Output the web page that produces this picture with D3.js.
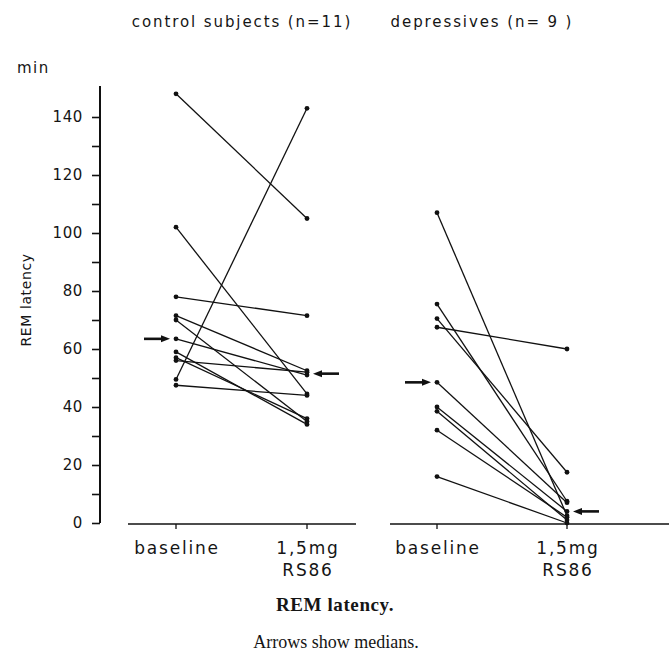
<!DOCTYPE html>
<html>
<head>
<meta charset="utf-8">
<script src="https://cdn.jsdelivr.net/npm/d3@7"></script>
<style>
  body { margin: 0; background: #fff; }
  svg { display: block; }
  .lbl { font-family: "DejaVu Sans", sans-serif; fill: #151515; }
  .cap { font-family: "Liberation Serif", serif; fill: #151515; }
</style>
</head>
<body>
<svg></svg>
<script>
// groups and conditions
var groups = ['control subjects (n=11)', 'depressives (n= 9 )'];
var conditions = ['baseline', '1,5mg RS86'];
var yTicks = [0, 20, 40, 60, 80, 100, 120, 140];

// REM latency (min), paired per subject
var controlBaseline = [148, 102, 78, 71.5, 70, 63.5, 59, 57, 56, 49.5, 47.5];
var controlRS86     = [105, 44.5, 71.5, 52.5, 35, 51, 34, 36, 52, 143, 44];
var deprBaseline = [107, 75.5, 70.5, 67.5, 48.5, 40, 38.5, 32, 16];
var deprRS86     = [2.5, 7.5, 17.5, 60, 7, 4, 1, 2, 0];

// medians (arrows)
var controlMedians = [63.5, 51.5];
var deprMedians = [48.5, 4];

var svg = d3.select('svg')
	.attr('width', 669)
	.attr('height', 651);

var y = d3.scaleLinear().domain([0, 150]).range([523, 88]);

var panels = [
	{ title: groups[0], base: controlBaseline, drug: controlRS86, med: controlMedians,
	  x: d3.scalePoint().domain(conditions).range([176, 307]), axis: [128, 356], tx: 242 },
	{ title: groups[1], base: deprBaseline, drug: deprRS86, med: deprMedians,
	  x: d3.scalePoint().domain(conditions).range([437, 567]), axis: [390, 669], tx: 482 }
];

// y axis
var yAxis = d3.axisLeft(y)
	.tickValues(d3.range(0, 150, 10))
	.tickSize(8)
	.tickFormat(function(d) { return yTicks.indexOf(d) >= 0 ? d : ''; });

var gy = svg.append('g')
	.attr('transform', 'translate(100,0)')
	.call(yAxis);
gy.select('.domain').remove();
gy.append('line')
	.attr('y1', y(150) - 2).attr('y2', y(0))
	.attr('stroke', '#111').attr('stroke-width', 2);
gy.selectAll('.tick line').attr('stroke', '#111').attr('stroke-width', 1.6);
gy.selectAll('.tick text')
	.attr('class', 'lbl')
	.attr('x', -17)
	.style('font-size', '15px')
	.style('letter-spacing', '0.6px')
	.style('font-family', '"DejaVu Sans", sans-serif')
	.attr('fill', '#151515');

svg.append('text')
	.attr('class', 'lbl')
	.attr('x', 17).attr('y', 73)
	.style('font-size', '15px')
	.style('letter-spacing', '1.5px')
	.text('min');

svg.append('text')
	.attr('class', 'lbl')
	.attr('transform', 'translate(31,300) rotate(-90)')
	.attr('text-anchor', 'middle')
	.style('font-size', '14px')
	.style('letter-spacing', '0.6px')
	.text('REM latency');

panels.forEach(function(p) {
	var g = svg.append('g');

	g.append('text')
		.attr('class', 'lbl')
		.attr('x', p.tx).attr('y', 27)
		.attr('text-anchor', 'middle')
		.style('font-size', '15px')
		.style('letter-spacing', '1.9px')
		.text(p.title);

	// x axis
	g.append('line')
		.attr('x1', p.axis[0]).attr('x2', p.axis[1])
		.attr('y1', y(0) + 1).attr('y2', y(0) + 1)
		.attr('stroke', '#111').attr('stroke-width', 1.5);

	conditions.forEach(function(c) {
		g.append('line')
			.attr('x1', p.x(c)).attr('x2', p.x(c))
			.attr('y1', y(0) + 1).attr('y2', y(0) + 6)
			.attr('stroke', '#111').attr('stroke-width', 1.3);
		var t = g.append('text')
			.attr('class', 'lbl')
			.attr('x', p.x(c)).attr('y', 554)
			.attr('text-anchor', 'middle')
			.style('font-size', '17px')
			.style('letter-spacing', '1.8px');
		c.split(' ').forEach(function(w, i) {
			t.append('tspan')
				.attr('x', p.x(c) + 1)
				.attr('dy', i ? 22 : 0)
				.text(w);
		});
	});

	// paired lines
	var pairs = p.base.map(function(v, i) { return [v, p.drug[i]]; });
	g.selectAll('line.pair')
		.data(pairs)
		.enter().append('line')
		.attr('class', 'pair')
		.attr('x1', p.x(conditions[0])).attr('y1', function(d) { return y(d[0]); })
		.attr('x2', p.x(conditions[1])).attr('y2', function(d) { return y(d[1]); })
		.attr('stroke', '#111').attr('stroke-width', 1.3);

	// dots
	conditions.forEach(function(c, k) {
		g.selectAll(null)
			.data(pairs)
			.enter().append('circle')
			.attr('cx', p.x(c))
			.attr('cy', function(d) { return y(d[k]); })
			.attr('r', 2.4)
			.attr('fill', '#111');
	});

	// median arrows
	p.med.forEach(function(m, k) {
		var cx = p.x(conditions[k]);
		var dir = k === 0 ? 1 : -1;
		var tip = cx - dir * 6;
		var tail = tip - dir * 26;
		g.append('line')
			.attr('x1', tail).attr('x2', tip - dir * 6)
			.attr('y1', y(m)).attr('y2', y(m))
			.attr('stroke', '#111').attr('stroke-width', 2.6);
		g.append('path')
			.attr('d', 'M' + tip + ',' + y(m) +
				'L' + (tip - dir * 9) + ',' + (y(m) - 3.5) +
				'L' + (tip - dir * 9) + ',' + (y(m) + 3.5) + 'Z')
			.attr('fill', '#111');
	});
});

// caption
svg.append('text')
	.attr('class', 'cap')
	.attr('x', 335).attr('y', 611)
	.attr('text-anchor', 'middle')
	.style('font-size', '19px')
	.style('font-weight', 'bold')
	.style('letter-spacing', '0.6px')
	.text('REM latency.');

svg.append('text')
	.attr('class', 'cap')
	.attr('x', 336).attr('y', 648)
	.attr('text-anchor', 'middle')
	.style('font-size', '18px')
	.text('Arrows show medians.');
</script>
</body>
</html>
